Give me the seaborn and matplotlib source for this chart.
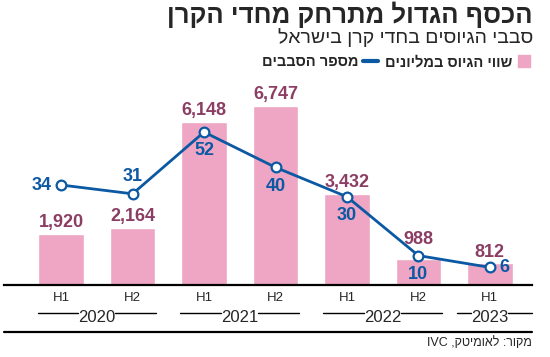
"""
plot.py
Unicorn fundraising rounds in Israel - bars (amount) + line (rounds).
"""

import numpy as np
import pandas as pd
import matplotlib.pyplot as plt
import matplotlib.transforms as mtransforms
from matplotlib.lines import Line2D
import seaborn as sns

sns.set_style("white")
plt.rcParams["font.family"] = ["Liberation Sans Narrow", "Liberation Sans", "DejaVu Sans"]

PINK = "#eea6c4"
MAUVE = "#8b3d63"
BLUE = "#0b58a3"

# ── data ─────────────────────────────────────────────────────────────────────
halves = ["H1", "H2", "H1", "H2", "H1", "H2", "H1"]
years = ["2020", "2020", "2021", "2021", "2022", "2022", "2023"]
amount = [1920, 2164, 6148, 6747, 3432, 988, 812]
rounds = [34, 31, 52, 40, 30, 10, 6]

title = "הכסף הגדול מתרחק מחדי הקרן"
subtitle = "סבבי הגיוסים בחדי קרן בישראל"
bar_label = "שווי הגיוס במליונים"
line_label = "מספר הסבבים"
source_he = "מקור: לאומיטק,"
source_en = "IVC"

df = pd.DataFrame({"period": [f"{y}-{h}" for y, h in zip(years, halves)],
                   "amount": amount, "rounds": rounds})


def rtl(s):
    # matplotlib has no bidi support, so flip Hebrew to visual order
    return s[::-1]


# where each round-count label sits relative to its point
label_pos = ["left", "above", "below", "below", "below", "below", "right"]
# lift (pt) of the amount labels above the bar tops
bar_lift = [2, 2, 2, 2, 2, 8, 2]

fig = plt.figure(figsize=(5.5, 3.57), dpi=100)
ax = fig.add_axes([4 / 550, 72 / 357, 528 / 550, 195 / 357])

sns.barplot(data=df, x="period", y="amount", color=PINK, width=0.64,
            saturation=1, ax=ax, zorder=1)
x = np.arange(len(df))
ax.set_xlim(-0.8, 6.59)
ax.set_ylim(0, 7358)
ax.set_xlabel("")
ax.set_ylabel("")
ax.set_yticks([])
ax.set_xticks(x)
ax.set_xticklabels(halves, fontsize=9.5)
ax.tick_params(axis="x", length=0, pad=5)
for s in ["top", "right", "left"]:
    ax.spines[s].set_visible(False)
ax.spines["bottom"].set_color("black")
ax.spines["bottom"].set_linewidth(1.6)

for xi, val, lift in zip(x, amount, bar_lift):
    ax.annotate(f"{val:,}", (xi, val), xytext=(0, lift), textcoords="offset points",
                ha="center", va="bottom", fontsize=13, fontweight="bold",
                color=MAUVE)

ax2 = ax.twinx()
ax2.set_ylim(0, 66.3)
ax2.set_axis_off()
sns.lineplot(x=x, y=rounds, ax=ax2, color=BLUE, linewidth=2, marker="o",
             markersize=7, markerfacecolor="white", markeredgecolor=BLUE,
             markeredgewidth=1.6)
ax2.set_xlim(-0.8, 6.59)

offsets = {"left": ((-7, 0), "right", "center"),
           "right": ((7, 0), "left", "center"),
           "above": ((0, 6), "center", "bottom"),
           "below": ((0, -7.5), "center", "top")}
for xi, val, pos in zip(x, rounds, label_pos):
    off, ha, va = offsets[pos]
    ax2.annotate(str(val), (xi, val), xytext=off, textcoords="offset points",
                 ha=ha, va=va, fontsize=13, fontweight="bold", color=BLUE)

# year groups below the halves
trans = mtransforms.blended_transform_factory(ax.transData, fig.transFigure)
y_line = 44 / 357
for yr in ["2020", "2021", "2022", "2023"]:
    idx = [i for i, y in enumerate(years) if y == yr]
    lo = idx[0] - 0.33 if len(idx) > 1 else idx[0] - 0.46
    hi = idx[-1] + 0.33 if len(idx) > 1 else 6.59
    mid = np.mean(idx)
    ax.text(mid, 40 / 357, yr, transform=trans, ha="center", va="center",
            fontsize=12)
    ax.plot([lo, mid - 0.26], [y_line, y_line], transform=trans, color="black",
            lw=1, clip_on=False)
    ax.plot([mid + 0.26, hi], [y_line, y_line], transform=trans, color="black",
            lw=1, clip_on=False)

fig.add_artist(Line2D([4 / 550, 532 / 550], [25 / 357, 25 / 357],
                      transform=fig.transFigure, color="black", lw=1.6))
fig.text(532 / 550, 14 / 357, source_en + " " + rtl(source_he), ha="right",
         va="center", fontsize=9)

# header
fig.text(533 / 550, 342 / 357, rtl(title), ha="right", va="center",
         fontsize=18.5, fontweight="bold")
fig.text(533 / 550, 319 / 357, rtl(subtitle), ha="right", va="center",
         fontsize=14)

handles = [Line2D([0], [0], color=BLUE, lw=3),
           Line2D([0], [0], marker="s", linestyle="none", markersize=9,
                  markerfacecolor=PINK, markeredgecolor=PINK)]
fig.legend(handles, [rtl(line_label), rtl(bar_label)], loc="center right",
           bbox_to_anchor=(537 / 550, 295 / 357), ncol=2, frameon=False,
           markerfirst=False, handlelength=1.0, handleheight=1.0,
           handletextpad=0.3, columnspacing=0.5, borderaxespad=0,
           prop={"weight": "bold", "size": 10.5})

plt.savefig("out.png", dpi=100)
plt.close()
